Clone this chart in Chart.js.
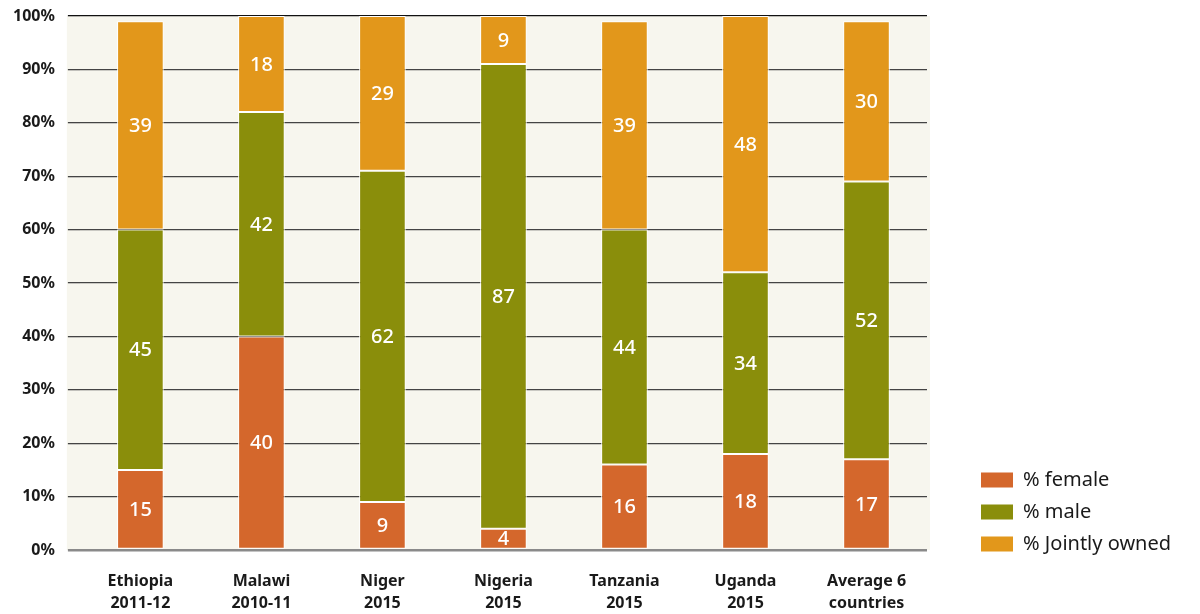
<!DOCTYPE html>
<html>
<head>
<meta charset="utf-8">
<script src="https://cdn.jsdelivr.net/npm/chart.js@4.4.1/dist/chart.umd.min.js"></script>
<style>
  html, body { margin:0; padding:0; background:#fff; }
  #wrap { width:1200px; height:614px; position:relative; }
</style>
</head>
<body>
<div id="wrap"><canvas id="chart"></canvas></div>
<script>
// Land ownership by sex, stacked shares per country
const categories = [
    ['Ethiopia','2011-12'],
    ['Malawi','2010-11'],
    ['Niger','2015'],
    ['Nigeria','2015'],
    ['Tanzania','2015'],
    ['Uganda','2015'],
    ['Average 6','countries']
];
const femaleValues = [15, 40, 9, 4, 16, 18, 17];
const maleValues   = [45, 42, 62, 87, 44, 34, 52];
const jointValues  = [39, 18, 29, 9, 39, 48, 30];
const seriesNames  = ['% female', '% male', '% Jointly owned'];
const yTicks = [0, 10, 20, 30, 40, 50, 60, 70, 80, 90, 100];

const palette = { female:'#D4672C', male:'#8A8E0B', joint:'#E2971B', plotBg:'#F7F6EE' };
const FONT = '"Noto Sans", "Liberation Sans", sans-serif';

// cream plot background, a bit wider than the category area
const plotBackground = {
    id:'plotBackground',
    beforeDraw(chart){
        const { ctx, chartArea:a } = chart;
        ctx.save();
        ctx.fillStyle = palette.plotBg;
        ctx.fillRect(a.left - 13, a.top, a.right - a.left + 16, a.bottom - a.top);
        ctx.restore();
    }
};

// white value labels in the middle of each segment
const segmentLabels = {
    id:'segmentLabels',
    afterDatasetsDraw(chart){
        const { ctx } = chart;
        ctx.save();
        ctx.fillStyle = '#fff';
        ctx.font = '500 20px ' + FONT;
        ctx.textAlign = 'center';
        ctx.textBaseline = 'middle';
        chart.data.datasets.forEach((ds, i) => {
            chart.getDatasetMeta(i).data.forEach((bar, j) => {
                const mid = (bar.y + bar.base) / 2;
                ctx.fillText(String(ds.data[j]), bar.x, mid + 1);
            });
        });
        ctx.restore();
    }
};

// legend drawn at bottom right, outside the plot
const sideLegend = {
    id:'sideLegend',
    afterDraw(chart){
        const { ctx } = chart;
        const x = 981, y0 = 480, gap = 32;
        ctx.save();
        ctx.font = '20px ' + FONT;
        ctx.textBaseline = 'middle';
        chart.data.datasets.forEach((ds, i) => {
            const y = y0 + i * gap;
            ctx.fillStyle = ds.backgroundColor;
            ctx.fillRect(x, y - 7.5, 32, 15);
            ctx.fillStyle = '#1a1a1a';
            ctx.fillText(ds.label, x + 42, y);
        });
        ctx.restore();
    }
};

const barOpts = { borderColor:'#fff', borderWidth:1, borderSkipped:false, categoryPercentage:1, barPercentage:0.385 };

new Chart(document.getElementById('chart'), {
    type:'bar',
    data:{
        labels: categories,
        datasets:[
            Object.assign({ label:seriesNames[0], data:femaleValues, backgroundColor:palette.female }, barOpts),
            Object.assign({ label:seriesNames[1], data:maleValues, backgroundColor:palette.male }, barOpts),
            Object.assign({ label:seriesNames[2], data:jointValues, backgroundColor:palette.joint }, barOpts)
        ]
    },
    options:{
        responsive:true,
        maintainAspectRatio:false,
        animation:false,
        layout:{ padding:{ top:16, right:273, left:0, bottom:0 } },
        plugins:{ legend:{ display:false }, tooltip:{ enabled:false } },
        scales:{
            x:{
                stacked:true,
                grid:{ display:false, drawTicks:false },
                border:{ display:false },
                afterFit(axis){ axis.height = 64; },
                ticks:{ color:'#1a1a1a', font:{ family:FONT, size:16, weight:'bold', lineHeight:1.38 }, padding:20 }
            },
            y:{
                stacked:true,
                min:0, max:100,
                afterBuildTicks(axis){ axis.ticks = yTicks.map(v => ({ value:v })); },
                afterFit(axis){ axis.paddingTop = 0; axis.paddingBottom = 0; },
                grid:{
                    color(c){ return c.tick.value === 0 ? '#8a8a8a' : (c.tick.value === 100 ? '#111' : '#444'); },
                    lineWidth(c){ return c.tick.value === 0 ? 2.5 : 1.3; },
                    tickLength:12
                },
                border:{ display:false },
                ticks:{ color:'#1a1a1a', font:{ family:FONT, size:16, weight:'bold' }, padding:13,
                        callback:v => v + '%' }
            }
        }
    },
    plugins:[plotBackground, segmentLabels, sideLegend]
});
</script>
</body>
</html>
